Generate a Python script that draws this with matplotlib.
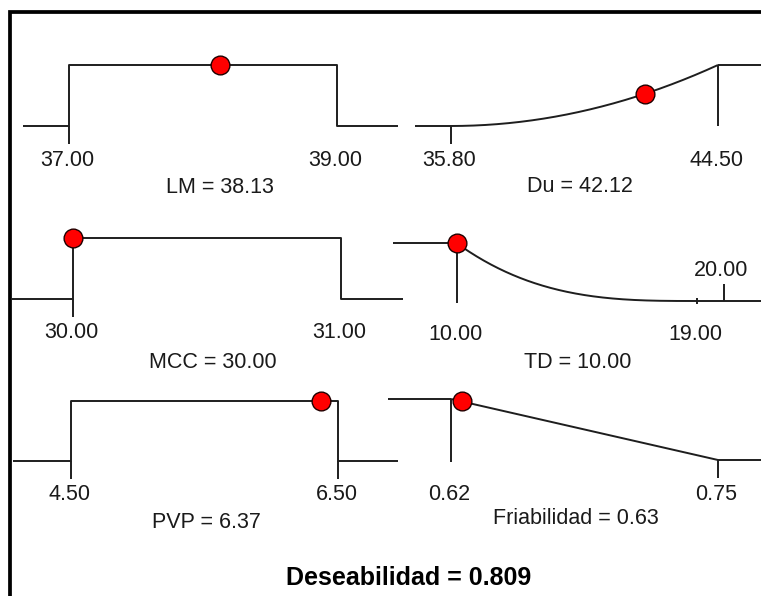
import numpy as np
import matplotlib
matplotlib.use("Agg")
import matplotlib.pyplot as plt
from matplotlib.patches import Rectangle

# ---- responses, goals and optimum solution ----
names = ["LM", "Du", "MCC", "TD", "PVP", "Friabilidad"]
goals = ["range", "maximize", "range", "minimize", "range", "minimize"]
lower = [37.00, 35.80, 30.00, 10.00, 4.50, 0.62]
upper = [39.00, 44.50, 31.00, 19.00, 6.50, 0.75]
weights = [1, 2, 1, 3, 1, 1]
optimum = [38.13, 42.12, 30.00, 10.00, 6.37, 0.6252]
ticks_down = [[37.00], [35.80], [30.00], [], [4.50, 6.50], [0.75]]
ticks_up = [[], [], [], [20.00], [], []]
ticks_minor = [[], [], [], [19.00], [], []]
desirability = 0.809

# ---- layout (pixels) ----
W, H = 761, 596
# px of lower limit, px of upper limit, line start, line end, top (d=1), bottom (d=0)
panel_px = [
    (69.0, 337.0, 23, 398, 65, 126),
    (450.5, 718.0, 415, 770, 65, 126),
    (73.0, 341.0, 12, 403, 238, 299),
    (456.5, 697.0, 393, 770, 243, 301),
    (71.0, 338.0, 13, 398, 401, 461),
    (451.0, 718.0, 388, 770, 399, 460),
]
title_px = [(220, 187), (580, 186), (213, 363), (578, 363), (206, 523), (576, 518)]
LINE = "#1e1e1e"
TEXT = "#1a1a1a"
FONT = "Liberation Sans"
FS = 15.5


def desir(goal, x, lo, hi, w):
    """Individual desirability of a response value."""
    x = np.asarray(x, dtype=float)
    if goal == "range":
        return ((x >= lo) & (x <= hi)).astype(float)
    if goal == "maximize":
        return np.clip((x - lo) / (hi - lo), 0, 1) ** w
    return np.clip((hi - x) / (hi - lo), 0, 1) ** w


fig = plt.figure(figsize=(W / 100, H / 100), dpi=100)
fig.patch.set_facecolor("white")

# outer frame (continues past the right and bottom edges)
fig.patches.append(Rectangle((10 / W, -0.2), 1.3, 1.2 - 12 / H,
                             transform=fig.transFigure, fill=False,
                             lw=2.7, ec="black", clip_on=False, zorder=0))

for i in range(6):
    name, goal, lo, hi, w, opt = names[i], goals[i], lower[i], upper[i], weights[i], optimum[i]
    p_lo, p_hi, p_l, p_r, y_t, y_b = panel_px[i]
    s = (hi - lo) / (p_hi - p_lo)
    x0 = lo - (p_lo - p_l) * s
    x1 = hi + (p_r - p_hi) * s
    ax = fig.add_axes([p_l / W, 1 - y_b / H, (p_r - p_l) / W, (y_b - y_t) / H])
    ax.set_xlim(x0, x1)
    ax.set_ylim(0, 1)
    ax.axis("off")
    dpx = 1.0 / (y_b - y_t)  # one pixel in desirability units
    kw = dict(color=LINE, lw=1.4, clip_on=False, solid_capstyle="butt")

    if goal == "range":
        # step: 0 outside the limits, 1 inside
        ax.plot([x0, lo, lo, hi, hi, x1], [0, 0, 1, 1, 0, 0], **kw)
    elif goal == "maximize":
        xs = np.linspace(lo, hi, 300)
        ax.plot([x0, lo], [0, 0], **kw)
        ax.plot(xs, desir(goal, xs, lo, hi, w), **kw)
        ax.plot([hi, hi], [1, 0], **kw)
        ax.plot([hi, x1], [1, 1], **kw)
    else:
        xs = np.linspace(lo, hi, 300)
        ax.plot([x0, lo], [1, 1], **kw)
        ax.plot([lo, lo], [1, -2 * dpx], **kw)
        ax.plot(xs, desir(goal, xs, lo, hi, w), **kw)
        ax.plot([hi, x1], [0, 0], **kw)

    for t in ticks_down[i]:
        ax.plot([t, t], [0, -18 * dpx], **kw)
    for t in ticks_up[i]:
        ax.plot([t, t], [0, 17 * dpx], **kw)
        ax.annotate(f"{t:.2f}", xy=(t, 0), xytext=(-2, 31 * 0.72),
                    textcoords="offset points", ha="center", va="center",
                    fontsize=FS, family=FONT, color=TEXT)
    for t in ticks_minor[i]:
        ax.plot([t, t], [-3 * dpx, 3 * dpx], **kw)

    for v in (lo, hi):
        ax.annotate(f"{v:.2f}", xy=(v, 0), xytext=(-1, -34 * 0.72),
                    textcoords="offset points", ha="center", va="center",
                    fontsize=FS, family=FONT, color=TEXT)

    ax.plot([opt], desir(goal, [opt], lo, hi, w), "o", ms=13.5, mfc="#ff0000",
            mec="#200000", mew=1.0, clip_on=False, zorder=5)

    tx, ty = title_px[i]
    fig.text(tx / W, 1 - ty / H, f"{name} = {opt:.2f}", ha="center", va="center",
             fontsize=FS, family=FONT, color=TEXT)

fig.text(409 / W, 1 - 578 / H, f"Deseabilidad = {desirability:.3f}",
         ha="center", va="center", fontsize=18, fontweight="bold",
         family=FONT, color="black")

fig.savefig("out.png", dpi=100)
